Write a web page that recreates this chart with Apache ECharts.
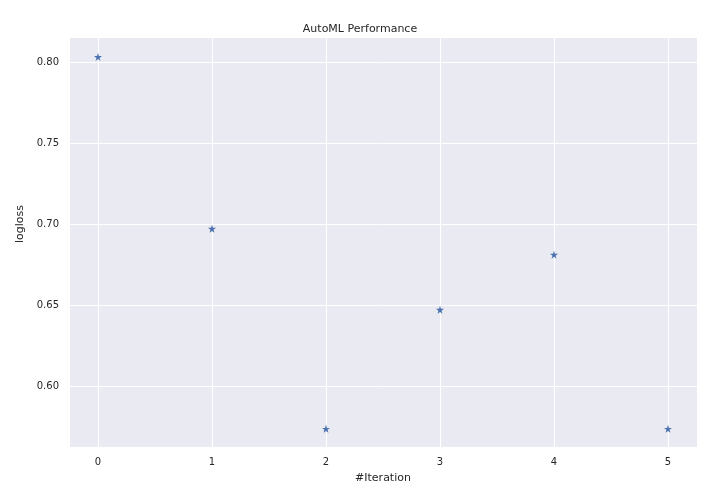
<!DOCTYPE html>
<html>
<head>
<meta charset="utf-8">
<script src="https://cdn.jsdelivr.net/npm/echarts@6/dist/echarts.min.js"></script>
<style>html,body{margin:0;padding:0;background:#fff}#main{width:720px;height:504px}</style>
</head>
<body>
<div id="main"></div>
<script>
// AutoML 迭代结果
var iterations = [0, 1, 2, 3, 4, 5];
var logloss = [0.8031, 0.6970, 0.5735, 0.6470, 0.6810, 0.5735];
var yTicks = [0.60, 0.80]; // first / last tick label

var chart = echarts.init(document.getElementById('main'));
var font = 'DejaVu Sans';
var points = iterations.map(function (v, i) { return [v, logloss[i]]; });

chart.setOption({
  animation: false,
  textStyle: {fontFamily: font},
  title: {
    text: 'AutoML Performance', left: 'center', top: 19,
    textStyle: {fontSize: 11, fontWeight: 'normal', color: '#262626', fontFamily: font}
  },
  grid: [
    //背景
    {left: 70, right: 23, top: 38, bottom: 57, show: true, backgroundColor: '#eaeaf2', borderWidth: 0},
    //数据 + 竖线
    {left: 98, right: 52, top: 38, bottom: 57},
    //横线 + y刻度
    {left: 70, right: 23, top: 62, bottom: 118}
  ],
  xAxis: [
    {gridIndex: 0, type: 'value', show: false},
    {
      gridIndex: 1, type: 'value', min: 0, max: 5, interval: 1,
      name: '#Iteration', nameLocation: 'middle', nameGap: 26,
      nameTextStyle: {fontSize: 11, color: '#262626'},
      axisLine: {show: false}, axisTick: {show: false},
      axisLabel: {fontSize: 10, color: '#262626', margin: 10},
      splitLine: {show: true, lineStyle: {color: '#fff', width: 1}}
    },
    {gridIndex: 2, type: 'value', show: false}
  ],
  yAxis: [
    {gridIndex: 0, type: 'value', show: false},
    {gridIndex: 1, type: 'value', min: 0.5623, max: 0.8148, show: false},
    {
      gridIndex: 2, type: 'value', min: yTicks[0], max: yTicks[1], interval: 0.05,
      name: 'logloss', nameLocation: 'middle', nameGap: 34, nameRotate: 90,
      nameTextStyle: {fontSize: 11, color: '#262626'},
      axisLine: {show: false}, axisTick: {show: false},
      axisLabel: {fontSize: 10, color: '#262626', margin: 11, formatter: function (v) { return v.toFixed(2); }},
      splitLine: {show: true, lineStyle: {color: '#fff', width: 1}}
    }
  ],
  series: [{
    type: 'scatter', xAxisIndex: 1, yAxisIndex: 1,
    symbol: 'path://M50,0 L61.8,35.4 L99,35.4 L69,57.3 L80.4,92.7 L50,70.8 L19.6,92.7 L31,57.3 L1,35.4 L38.2,35.4 Z',
    symbolSize: 8,
    itemStyle: {color: '#4c72b0', opacity: 1},
    data: points
  }]
});
</script>
</body>
</html>
